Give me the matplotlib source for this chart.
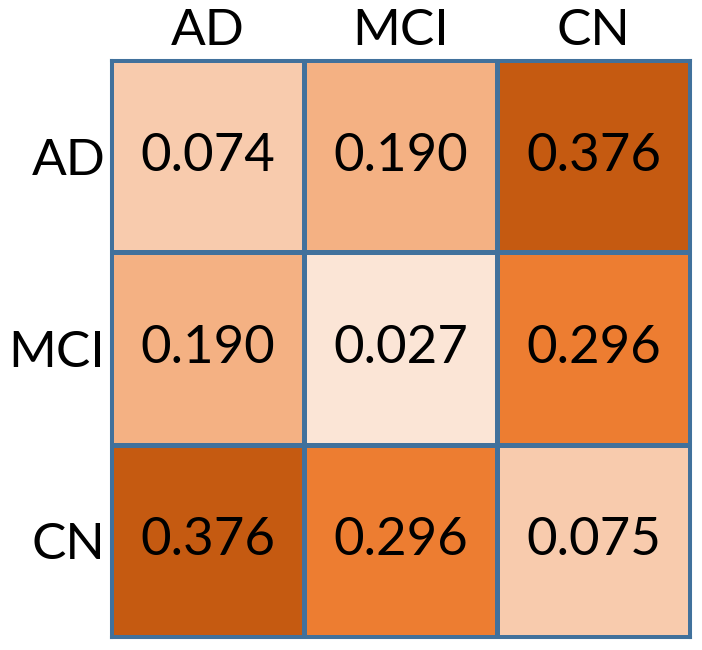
import numpy as np
import matplotlib
matplotlib.use("Agg")
import matplotlib.pyplot as plt
from matplotlib.colors import ListedColormap, BoundaryNorm

labels = ["AD", "MCI", "CN"]
values = np.array([[0.074, 0.190, 0.376],
                   [0.190, 0.027, 0.296],
                   [0.376, 0.296, 0.075]])

# discrete Office-style orange shades
shades = ["#FBE5D6", "#F8CBAD", "#F4B183", "#ED7D31", "#C55A11"]
bounds = [0.0, 0.05, 0.1, 0.25, 0.33, 0.4]
cmap = ListedColormap(shades)
norm = BoundaryNorm(bounds, cmap.N)

plt.rcParams["font.family"] = ["Lato", "DejaVu Sans"]

fig = plt.figure(figsize=(7.02, 6.5), dpi=100)
ax = fig.add_axes([111 / 702, 1 - 637 / 650, 579 / 702, 577 / 650])
ax.pcolormesh(values, cmap=cmap, norm=norm, edgecolors="#41719C", linewidth=2.2)
ax.set_xlim(0, 3)
ax.set_ylim(3, 0)

for (i, j), v in np.ndenumerate(values):
    ax.text(j + 0.5, i + 0.5, f"{v:.3f}", ha="center", va="center",
            fontsize=38, color="black")

ax.xaxis.tick_top()
ax.set_xticks(np.arange(3) + 0.5)
ax.set_yticks(np.arange(3) + 0.5)
ax.set_xticklabels(labels, fontsize=37)
ax.set_yticklabels(labels, fontsize=37)
ax.tick_params(length=0, pad=4)
for s in ax.spines.values():
    s.set_color("#41719C")
    s.set_linewidth(2.2)

fig.savefig("out.png", dpi=100)
